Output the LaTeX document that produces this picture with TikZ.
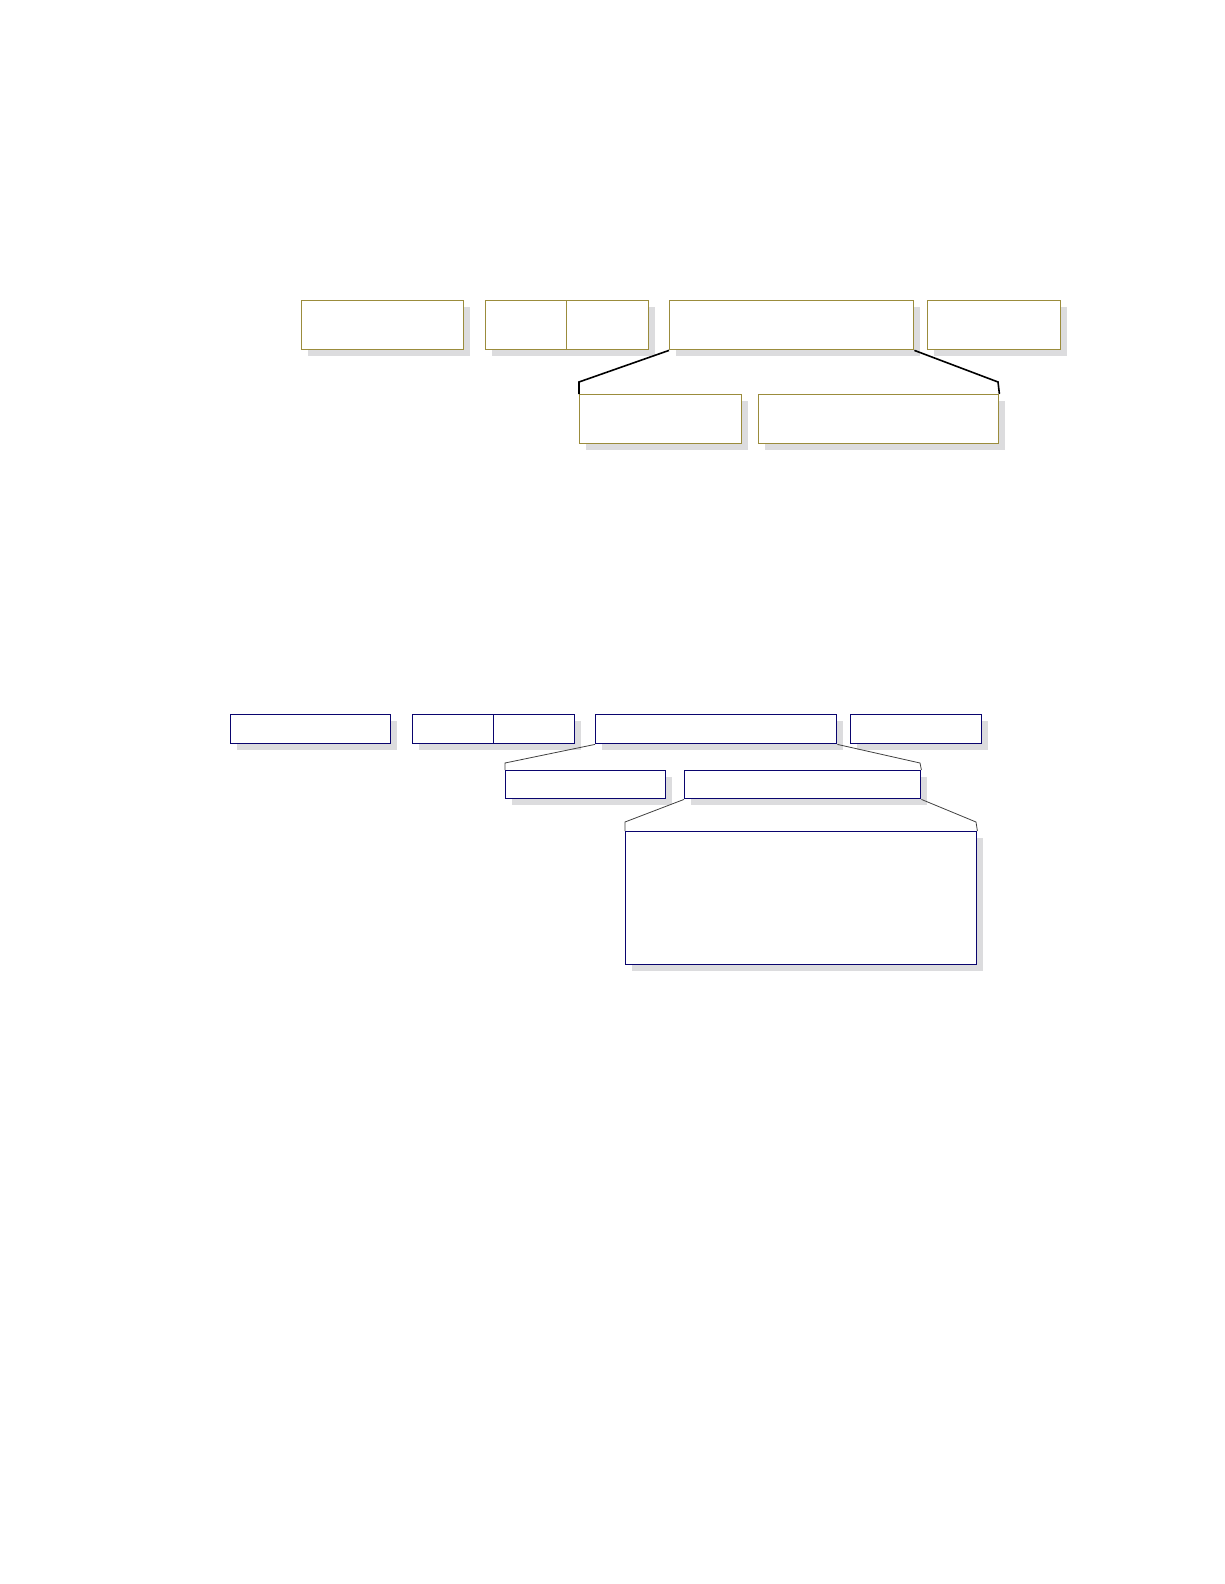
\documentclass[tikz,border=0pt]{standalone}
\usetikzlibrary{shadows}
\definecolor{olivebox}{RGB}{155,140,60}
\definecolor{navybox}{RGB}{10,5,110}
\definecolor{shadowgrey}{RGB}{220,220,222}
\tikzset{
  shd/.style={drop shadow={shadow xshift=6pt, shadow yshift=-6pt, fill=shadowgrey, opacity=1}},
  obox/.style={draw=olivebox, line width=1.4pt, fill=white, rectangle, inner sep=0pt, anchor=north west, shd},
  nbox/.style={draw=navybox, line width=1.4pt, fill=white, rectangle, inner sep=0pt, anchor=north west, shd},
  oconn/.style={draw=black, line width=1.6pt},
  nconn/.style={draw=black!75, line width=0.8pt},
}
\begin{document}
\begin{tikzpicture}[x=1pt,y=-1pt]
\useasboundingbox (0,0) rectangle (1224,1584);
% top (olive)
\node[obox, minimum width=162pt, minimum height=49pt] (A) at (301,300) {};
\node[obox, minimum width=81pt, minimum height=49pt] (B1) at (485,300) {};
\node[obox, minimum width=82pt, minimum height=49pt] (B2) at (566,300) {};
\node[obox, minimum width=244pt, minimum height=49pt] (C) at (669,300) {};
\node[obox, minimum width=133pt, minimum height=49pt] (D) at (927,300) {};
\node[obox, minimum width=162pt, minimum height=49pt] (E) at (579,394) {};
\node[obox, minimum width=240pt, minimum height=49pt] (F) at (758,394) {};
\coordinate (c1) at (579,382);
\coordinate (c2) at (998,382);
\draw[oconn] (C.south west) -- (c1) -- (E.north west);
\draw[oconn] (C.south east) -- (c2) -- (F.north east);
% bottom (navy)
\node[nbox, minimum width=160pt, minimum height=29pt] (G) at (230,714) {};
\node[nbox, minimum width=81pt, minimum height=29pt] (H1) at (412,714) {};
\node[nbox, minimum width=81pt, minimum height=29pt] (H2) at (493,714) {};
\node[nbox, minimum width=241pt, minimum height=29pt] (I) at (595,714) {};
\node[nbox, minimum width=131pt, minimum height=29pt] (J) at (850,714) {};
\node[nbox, minimum width=160pt, minimum height=28pt] (K) at (505,770) {};
\node[nbox, minimum width=236pt, minimum height=28pt] (L) at (684,770) {};
\node[nbox, minimum width=351pt, minimum height=133pt] (M) at (625,831) {};
\coordinate (d1) at (505,763);
\coordinate (d2) at (920,763);
\coordinate (e1) at (625,822);
\coordinate (e2) at (976,822);
\draw[nconn] (I.south west) -- (d1) -- (K.north west);
\draw[nconn] (I.south east) -- (d2) -- (L.north east);
\draw[nconn] (L.south west) -- (e1) -- (M.north west);
\draw[nconn] (L.south east) -- (e2) -- (M.north east);
\end{tikzpicture}
\end{document}
